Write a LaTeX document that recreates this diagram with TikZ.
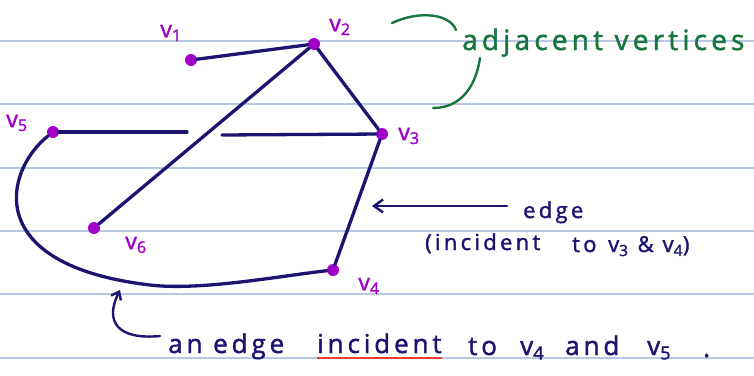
\documentclass[tikz,border=0pt]{standalone}
\usepackage{fontspec}
\usepackage{tikz}
\usetikzlibrary{arrows.meta,positioning}
\newfontfamily\handfont{Open Sans}[LetterSpace=15, FakeBold=1.6]
\definecolor{inknavy}{HTML}{1C1470}
\definecolor{vmagenta}{HTML}{A100C8}
\definecolor{inkgreen}{HTML}{17763F}
\definecolor{inkred}{HTML}{E8402A}
\definecolor{rulecolor}{HTML}{B8C8E2}

\begin{document}
\begin{tikzpicture}[
    x=1pt, y=-1pt,
    vertex/.style={circle, fill=vmagenta, inner sep=0pt, minimum size=12pt},
    vlabel/.style={text=vmagenta, font=\handfont\fontsize{23}{24}\selectfont, inner sep=0pt},
    edgeline/.style={draw=inknavy, line width=3.3pt, line cap=round},
    note/.style={text=inknavy, inner sep=0pt, anchor=base west},
    big/.style={font=\handfont\fontsize{26}{28}\selectfont},
    small/.style={font=\handfont\fontsize{22}{24}\selectfont},
    point/.style={draw=inknavy, line width=2.4pt, line cap=round, -{Straight Barb[length=9pt, width=13pt]}},
    ruled/.style={draw=rulecolor, line width=1.3pt}
  ]
    \useasboundingbox[fill=white] (0,0) rectangle (754,375);
    % notebook lines
    \foreach \y in {41,104,168,231,294,358}
      \draw[ruled] (0,\y) -- (754,\y);

    % vertices
    \node[vertex] (v1) at (191,60) {};
    \node[vertex] (v2) at (314,44) {};
    \node[vertex] (v3) at (382,134) {};
    \node[vertex] (v4) at (333,270) {};
    \node[vertex] (v5) at (53,132) {};
    \node[vertex] (v6) at (94,228) {};
    \node[vlabel] (l1) at (171,33) {v\textsubscript{1}};
    \node[vlabel] (l2) at (340,27) {v\textsubscript{2}};
    \node[vlabel] (l3) at (409,136) {v\textsubscript{3}};
    \node[vlabel] (l4) at (369,286) {v\textsubscript{4}};
    \node[vlabel] (l5) at (17,123) {v\textsubscript{5}};
    \node[vlabel] (l6) at (136,245) {v\textsubscript{6}};

    % edges
    \coordinate (gapL) at (187,132);
    \coordinate (gapR) at (222,135);
    \coordinate (bend) at (150,285);
    \draw[edgeline] (v1) -- (v2);
    \draw[edgeline] (v2) -- (v3);
    \draw[edgeline] (v2) -- (v6);
    \draw[edgeline] (v5) -- (gapL);
    \draw[edgeline] (gapR) -- (v3);
    \draw[edgeline] (v3) -- (v4);
    \draw[edgeline] (v5) .. controls (5,170) and (-20,265) .. (bend)
                         .. controls (200,291) and (280,276) .. (v4);

    % adjacent vertices
    \node[note, text=inkgreen, font=\handfont\fontsize{28}{30}\selectfont] (adj) at (462,50) {adjacent vertices};
    \coordinate (a1) at (392,23);
    \coordinate (a2) at (456,30);
    \coordinate (a3) at (480,58);
    \coordinate (a4) at (433,108);
    \draw[inkgreen, line width=2.4pt, line cap=round] (a1) .. controls (420,10) and (450,14) .. (a2);
    \draw[inkgreen, line width=2.4pt, line cap=round] (a3) .. controls (476,85) and (462,108) .. (a4);

    % edge v3 v4
    \node[note, small] (edge) at (523,218) {edge};
    \node[note, small] (why) at (425,250) {(incident};
    \node[note, small] (whyto) at (572,252) {to};
    \node[note, small] (whyv) at (608,252) {v\textsubscript{3} \& v\textsubscript{4})};
    \coordinate (etail) at (507,206);
    \coordinate (etip) at (372,206);
    \draw[point] (etail) -- (etip);

    % edge v4 v5
    \node[note, big] (an) at (168,353) {an edge};
    \node[note, big] (inc) at (317,353) {incident};
    \node[note, big] (to) at (468,355) {to};
    \node[note, big] (tov4) at (520,355) {v\textsubscript{4}};
    \node[note, big] (and) at (565,355) {and};
    \node[note, big] (tov5) at (647,355) {v\textsubscript{5}};
    \node[note, big] (stop) at (703,357) {.};
    \draw[inkred, line width=2.4pt] ([yshift=-5pt]inc.base west) -- ([yshift=-5pt]inc.base east);
    \coordinate (btail) at (160,336);
    \coordinate (btip) at (120,290);
    \draw[point, -{Straight Barb[length=7pt, width=11pt]}] (btail) .. controls (118,340) and (104,322) .. (btip);
  \end{tikzpicture}
\end{document}
